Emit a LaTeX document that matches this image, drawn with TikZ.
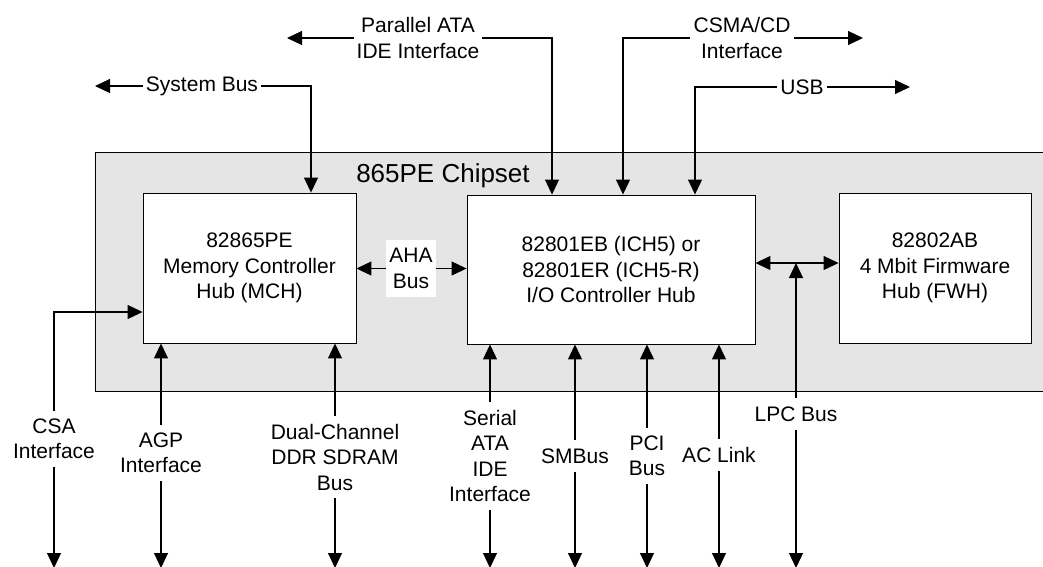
\documentclass[tikz,border=0pt]{standalone}
\usepackage{fontspec}
\setmainfont{Liberation Sans}
\usetikzlibrary{arrows.meta}
\definecolor{chipgray}{RGB}{229,229,229}

\begin{document}
\begin{tikzpicture}[x=1pt, y=-1pt,
			every node/.style={font=\fontsize{21}{25.5}\selectfont, align=center},
			hub/.style={draw, fill=white, line width=0.9pt, inner sep=0pt},
			bus/.style={line width=1.1pt, -{Triangle[length=15pt, width=14pt]}},
			buslabel/.style={fill=white, inner xsep=3pt, inner ysep=8pt}]
			\useasboundingbox (0,0) rectangle (1043,566);
			\draw[fill=chipgray, line width=0.9pt] (95,152) rectangle (1060,391);
			\node[font=\fontsize{26}{30}\selectfont] (chipset) at (443,176) {865PE Chipset};
			\node[hub, minimum width=213pt, minimum height=150pt] (mch) at (249.5,268) {82865PE\\Memory Controller\\Hub (MCH)};
			\node[hub, minimum width=288pt, minimum height=149pt] (ich) at (611,269.5) {82801EB (ICH5) or\\82801ER (ICH5-R)\\I/O Controller Hub};
			\node[hub, minimum width=192pt, minimum height=150pt] (fwh) at (935,268) {82802AB\\4 Mbit Firmware\\Hub (FWH)};
			\coordinate (floor) at (0,568);

			\node[buslabel] (sysbus) at (202,86) {System Bus};
			\coordinate (sysend) at (95,86);
			\coordinate (sysbend) at (311,86);
			\draw[bus] (sysbus) -- (sysend);
			\draw[bus] (sysbus) -- (sysbend) -- (sysbend |- mch.north);

			\node[buslabel] (pata) at (418,38) {Parallel ATA\\IDE Interface};
			\coordinate (pataend) at (287,38);
			\coordinate (patabend) at (552,38);
			\draw[bus] (pata) -- (pataend);
			\draw[bus] (pata) -- (patabend) -- (patabend |- ich.north);

			\node[buslabel] (csma) at (742,38) {CSMA/CD\\Interface};
			\coordinate (csmaend) at (863,38);
			\coordinate (csmabend) at (623,38);
			\draw[bus] (csma) -- (csmaend);
			\draw[bus] (csma) -- (csmabend) -- (csmabend |- ich.north);

			\node[buslabel] (usb) at (802,87) {USB};
			\coordinate (usbend) at (910,87);
			\coordinate (usbbend) at (695,87);
			\draw[bus] (usb) -- (usbend);
			\draw[bus] (usb) -- (usbbend) -- (usbbend |- ich.north);

			\node[buslabel] (aha) at (411,268.5) {AHA\\Bus};
			\draw[bus] (aha) -- (aha -| mch.east);
			\draw[bus] (aha) -- (aha -| ich.west);

			\coordinate (lpcjoin) at (796,263);
			\draw[bus] (lpcjoin) -- (lpcjoin -| ich.east);
			\draw[bus] (lpcjoin) -- (lpcjoin -| fwh.west);
			\node[buslabel] (lpc) at (796,414) {LPC Bus};
			\draw[bus] (lpc) -- (lpcjoin);
			\draw[bus] (lpc) -- (lpc |- floor);

			\node[buslabel] (csa) at (54,439) {CSA\\Interface};
			\coordinate (csabend) at (54,312);
			\draw[bus] (csa) -- (csabend) -- (csabend -| mch.west);
			\draw[bus] (csa) -- (csa |- floor);

			\node[buslabel] (agp) at (161,453) {AGP\\Interface};
			\draw[bus] (agp) -- (agp |- mch.south);
			\draw[bus] (agp) -- (agp |- floor);

			\node[buslabel] (ddr) at (335,457) {Dual-Channel\\DDR SDRAM\\Bus};
			\draw[bus] (ddr) -- (ddr |- mch.south);
			\draw[bus] (ddr) -- (ddr |- floor);

			\node[buslabel] (sata) at (490,456) {Serial\\ATA\\IDE\\Interface};
			\draw[bus] (sata) -- (sata |- ich.south);
			\draw[bus] (sata) -- (sata |- floor);

			\node[buslabel] (smbus) at (575,456) {SMBus};
			\draw[bus] (smbus) -- (smbus |- ich.south);
			\draw[bus] (smbus) -- (smbus |- floor);

			\node[buslabel] (pci) at (647,456) {PCI\\Bus};
			\draw[bus] (pci) -- (pci |- ich.south);
			\draw[bus] (pci) -- (pci |- floor);

			\node[buslabel] (aclink) at (719,455) {AC Link};
			\draw[bus] (aclink) -- (aclink |- ich.south);
			\draw[bus] (aclink) -- (aclink |- floor);
\end{tikzpicture}
\end{document}
